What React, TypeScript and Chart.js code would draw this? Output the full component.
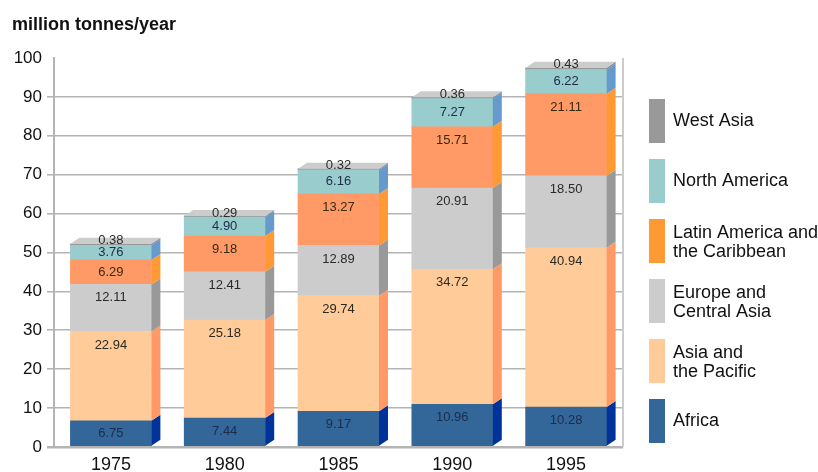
import React, { useEffect, useRef } from "react";
import { Chart, registerables } from "chart.js";

Chart.register(...registerables);

// Emissions by region, million tonnes per year
const years = ["1975", "1980", "1985", "1990", "1995"];
const africa = [6.75, 7.44, 9.17, 10.96, 10.28];
const asiaPacific = [22.94, 25.18, 29.74, 34.72, 40.94];
const europeCentralAsia = [12.11, 12.41, 12.89, 20.91, 18.5];
const latinAmerica = [6.29, 9.18, 13.27, 15.71, 21.11];
const northAmerica = [3.76, 4.9, 6.16, 7.27, 6.22];
const westAsia = [0.38, 0.29, 0.32, 0.36, 0.43];
const yTicks = [0, 10, 20, 30, 40, 50, 60, 70, 80, 90, 100];

const FONT = "'Liberation Sans', Arial, Helvetica, sans-serif";

type Series = {
  name: string[];
  values: number[];
  front: string;
  side: string;
  swatch: string;
  text: string;
};

// stacked bottom to top
const series: Series[] = [
  { name: ["Africa"], values: africa, front: "#336699", side: "#003399", swatch: "#336699", text: "#1c2c4c" },
  { name: ["Asia and", "the Pacific"], values: asiaPacific, front: "#FFCC99", side: "#FF9966", swatch: "#FFCC99", text: "#2a2a22" },
  { name: ["Europe and", "Central Asia"], values: europeCentralAsia, front: "#CCCCCC", side: "#999999", swatch: "#CCCCCC", text: "#2a2a2a" },
  { name: ["Latin America and", "the Caribbean"], values: latinAmerica, front: "#FF9966", side: "#FF9933", swatch: "#FF9933", text: "#3a2a10" },
  { name: ["North America"], values: northAmerica, front: "#99CCCC", side: "#6699CC", swatch: "#99CCCC", text: "#1c2c4c" },
  { name: ["West Asia"], values: westAsia, front: "#999999", side: "#888888", swatch: "#999999", text: "#2a2a2a" },
];

const DX = 9;
const DY = -6;

const depthPlugin = {
  id: "depth3d",
  beforeDatasetsDraw(chart: any) {
    const { ctx, chartArea } = chart;
    ctx.save();
    ctx.strokeStyle = "#cccccc";
    ctx.lineWidth = 2;
    ctx.beginPath();
    ctx.moveTo(chartArea.right, chartArea.top);
    ctx.lineTo(chartArea.right, chartArea.bottom);
    ctx.stroke();
    ctx.restore();
  },
  afterDatasetsDraw(chart: any) {
    const { ctx } = chart;
    const last = series.length - 1;
    ctx.save();
    series.forEach((s, di) => {
      const meta = chart.getDatasetMeta(di);
      meta.data.forEach((bar: any) => {
        const { x, y, base, width } = bar.getProps(["x", "y", "base", "width"], true);
        const right = x + width / 2;
        const left = x - width / 2;
        ctx.fillStyle = s.side;
        ctx.beginPath();
        ctx.moveTo(right, y);
        ctx.lineTo(right + DX, y + DY);
        ctx.lineTo(right + DX, base + DY);
        ctx.lineTo(right, base);
        ctx.closePath();
        ctx.fill();
        if (di === last) {
          ctx.fillStyle = "#CCCCCC";
          ctx.beginPath();
          ctx.moveTo(left, y);
          ctx.lineTo(left + DX, y + DY);
          ctx.lineTo(right + DX, y + DY);
          ctx.lineTo(right, y);
          ctx.closePath();
          ctx.fill();
        }
      });
    });
    // value labels
    ctx.font = `13px ${FONT}`;
    ctx.textAlign = "center";
    ctx.textBaseline = "middle";
    series.forEach((s, di) => {
      const meta = chart.getDatasetMeta(di);
      meta.data.forEach((bar: any, i: number) => {
        const { x, y, base } = bar.getProps(["x", "y", "base"], true);
        const h = base - y;
        const ty = di === last ? y - 3 : y + Math.min(13.5, h / 2);
        ctx.fillStyle = s.text;
        ctx.fillText(s.values[i].toFixed(2), x, ty);
      });
    });
    ctx.restore();
  },
  afterDraw(chart: any) {
    const { ctx } = chart;
    ctx.save();
    // unit title
    ctx.fillStyle = "#111111";
    ctx.font = `bold 18px ${FONT}`;
    ctx.textAlign = "left";
    ctx.textBaseline = "alphabetic";
    ctx.fillText("million tonnes/year", 12, 30);

    // legend, top entry is the last stacked series
    ctx.font = `18px ${FONT}`;
    ctx.textBaseline = "middle";
    const order = [...series].reverse();
    order.forEach((s, k) => {
      const top = 99 + k * 60;
      ctx.fillStyle = s.swatch;
      ctx.fillRect(649, top, 16, 44);
      ctx.fillStyle = "#111111";
      const cy = top + 22;
      if (s.name.length === 1) {
        ctx.fillText(s.name[0], 673, cy);
      } else {
        ctx.fillText(s.name[0], 673, cy - 8);
        ctx.fillText(s.name[1], 673, cy + 11);
      }
    });
    ctx.restore();
  },
};

export default function App() {
  const canvasRef = useRef<HTMLCanvasElement | null>(null);

  useEffect(() => {
    if (!canvasRef.current) return;
    const chart = new Chart(canvasRef.current, {
      type: "bar",
      data: {
        labels: years,
        datasets: series.map((s) => ({
          label: s.name.join(" "),
          data: s.values,
          backgroundColor: s.front,
          borderWidth: 0,
          barThickness: 81,
        })),
      },
      options: {
        responsive: false,
        animation: false,
        layout: { padding: { top: 58, right: 195, left: 0, bottom: 0 } },
        plugins: {
          legend: { display: false },
          title: { display: false },
          tooltip: { enabled: false },
        },
        scales: {
          x: {
            stacked: true,
            grid: { display: false, drawTicks: false },
            border: { display: false },
            ticks: {
              padding: 7,
              color: "#111111",
              font: { family: FONT, size: 18 },
            },
            afterFit(scale: any) {
              scale.height = 25;
            },
          },
          y: {
            stacked: true,
            min: 0,
            max: 100,
            afterBuildTicks(scale: any) {
              scale.ticks = yTicks.map((v) => ({ value: v }));
            },
            grid: {
              color: (c: any) => (c.tick && c.tick.value === 100 ? "rgba(0,0,0,0)" : "#b4b4b4"),
              lineWidth: (c: any) => (c.tick && c.tick.value === 0 ? 2.5 : 1.6),
              tickLength: 7,
            },
            border: { display: true, color: "#b4b4b4", width: 2 },
            ticks: {
              padding: 5,
              color: "#111111",
              font: { family: FONT, size: 17 },
            },
            afterFit(scale: any) {
              scale.width = 54;
            },
          },
        },
      },
      plugins: [depthPlugin],
    });
    return () => chart.destroy();
  }, []);

  return (
    <canvas
      ref={canvasRef}
      width={818}
      height={472}
      style={{ position: "absolute", left: 0, top: 0, display: "block" }}
    />
  );
}
